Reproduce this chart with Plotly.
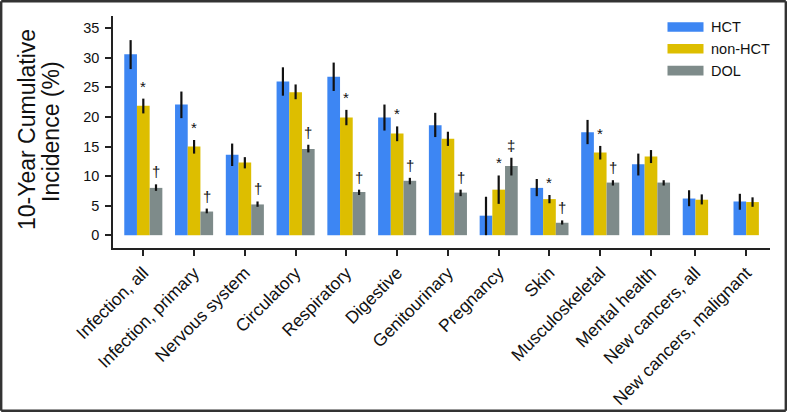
import plotly.graph_objects as go

categories = ["Infection, all", "Infection, primary", "Nervous system", "Circulatory",
              "Respiratory", "Digestive", "Genitourinary", "Pregnancy", "Skin",
              "Musculoskeletal", "Mental health", "New cancers, all", "New cancers, malignant"]

hct = [30.6, 22.1, 13.6, 26.0, 26.8, 19.9, 18.6, 3.3, 8.0, 17.4, 12.0, 6.2, 5.7]
hct_lo = [28.1, 19.8, 11.7, 23.6, 24.4, 17.7, 16.6, 0.0, 6.6, 15.4, 10.1, 4.9, 4.3]
hct_hi = [33.0, 24.3, 15.5, 28.4, 29.2, 22.1, 20.7, 6.5, 9.5, 19.5, 13.8, 7.6, 7.0]

nonhct = [21.9, 15.0, 12.3, 24.2, 19.9, 17.2, 16.3, 7.7, 6.1, 14.0, 13.3, 6.0, 5.6]
nonhct_lo = [20.6, 13.8, 11.3, 23.0, 18.6, 15.9, 15.1, 5.3, 5.4, 12.8, 12.2, 5.2, 4.8]
nonhct_hi = [23.1, 16.1, 13.2, 25.5, 21.2, 18.4, 17.5, 10.1, 6.8, 15.1, 14.4, 6.9, 6.4]

dol = [8.0, 4.0, 5.2, 14.6, 7.3, 9.2, 7.2, 11.7, 2.1, 8.9, 8.9, None, None]
dol_lo = [7.5, 3.7, 4.8, 14.0, 6.8, 8.6, 6.6, 10.1, 1.8, 8.4, 8.4, None, None]
dol_hi = [8.6, 4.5, 5.7, 15.3, 7.7, 9.7, 7.7, 13.1, 2.5, 9.3, 9.3, None, None]

nonhct_sig = ["*", "*", "", "", "*", "*", "", "*", "*", "*", "", "", ""]
dol_sig = ["\u2020", "\u2020", "\u2020", "\u2020", "\u2020", "\u2020", "\u2020", "\u2021", "\u2020", "\u2020", "", "", ""]

series_names = ["HCT", "non-HCT", "DOL"]
colors = ["#3D86F3", "#DDBE00", "#7E8B8A"]
yticks = [0, 5, 10, 15, 20, 25, 30, 35]

FONT = "Liberation Sans, Arial, Helvetica, sans-serif"
W, H = 787, 412
ML, MR, MT, MB = 113, 17, 16, 164
PW, PH = W - ML - MR, H - MT - MB
BARGAP = 0.25
slot = (1 - BARGAP) / 3

pos = list(range(len(categories)))


def err(vals, lo, hi):
    plus = [None if v is None else h - v for v, h in zip(vals, hi)]
    minus = [None if v is None else v - l for v, l in zip(vals, lo)]
    return dict(type="data", symmetric=False, array=plus, arrayminus=minus,
                color="#111111", thickness=2.2, width=0)


fig = go.Figure()
for name, vals, lo, hi, col in [("HCT", hct, hct_lo, hct_hi, colors[0]),
                                ("non-HCT", nonhct, nonhct_lo, nonhct_hi, colors[1]),
                                ("DOL", dol, dol_lo, dol_hi, colors[2])]:
    fig.add_trace(go.Bar(x=pos, y=vals, name=name, marker=dict(color=col, line=dict(width=0)),
                         error_y=err(vals, lo, hi), showlegend=False))

# tick positions: centre of the bars actually present in each group
tickvals = []
for i in pos:
    offs = [-slot, 0.0] + ([slot] if dol[i] is not None else [])
    tickvals.append(i + sum(offs) / len(offs))

annotations = []
for i in pos:
    if nonhct_sig[i]:
        annotations.append(dict(x=i, y=nonhct_hi[i], xref="x", yref="y", text=nonhct_sig[i],
                                showarrow=False, yanchor="bottom", yshift=2,
                                font=dict(family=FONT, size=15, color="#111")))
    if dol_sig[i]:
        annotations.append(dict(x=i + slot, y=dol_hi[i], xref="x", yref="y", text=dol_sig[i],
                                showarrow=False, yanchor="bottom", yshift=2,
                                font=dict(family=FONT, size=15, color="#111")))


def px_x(p):
    return (p - ML) / PW


def px_y(p):
    return (MT + PH - p) / PH


# y-axis title as two lines
annotations.append(dict(x=px_x(27), y=px_y(130), xref="paper", yref="paper", text="10-Year Cumulative",
                        textangle=-90, showarrow=False, xanchor="center", yanchor="middle",
                        font=dict(family=FONT, size=23, color="#111")))
annotations.append(dict(x=px_x(51), y=px_y(132), xref="paper", yref="paper", text="Incidence (%)",
                        textangle=-90, showarrow=False, xanchor="center", yanchor="middle",
                        font=dict(family=FONT, size=23, color="#111")))

shapes = []
# legend
for k, (name, col) in enumerate(zip(series_names, colors)):
    cy = 27 + k * 21.8
    shapes.append(dict(type="rect", xref="paper", yref="paper",
                       x0=px_x(667.5), x1=px_x(703.5), y0=px_y(cy - 4.8), y1=px_y(cy + 4.8),
                       fillcolor=col, line=dict(width=0)))
    annotations.append(dict(x=px_x(709), y=px_y(cy), xref="paper", yref="paper", text=name,
                            showarrow=False, xanchor="left", yanchor="middle",
                            font=dict(family=FONT, size=14.5, color="#111")))

# outer frame (four edges)
e = 1.2
for (a, b, c, d) in [(e, e, W - e, e), (W - e, e, W - e, H - e), (W - e, H - e, e, H - e), (e, H - e, e, e)]:
    shapes.append(dict(type="line", xref="paper", yref="paper",
                       x0=px_x(a), y0=px_y(b), x1=px_x(c), y1=px_y(d),
                       line=dict(color="#333333", width=2.4)))

fig.update_layout(
    width=W, height=H, template="none",
    margin=dict(l=ML, r=MR, t=MT, b=MB, pad=0),
    paper_bgcolor="white", plot_bgcolor="white",
    barmode="group", bargap=BARGAP, bargroupgap=0,
    font=dict(family=FONT, color="#111"),
    annotations=annotations, shapes=shapes, showlegend=False,
    xaxis=dict(range=[-0.597, 12.344], tickmode="array", tickvals=tickvals, ticktext=categories,
               tickangle=-45, ticks="outside", ticklen=6, tickwidth=1.5, tickcolor="#222",
               showline=True, linecolor="#222", linewidth=1.5, showgrid=False, zeroline=False,
               tickfont=dict(family=FONT, size=17.5, color="#111"), automargin=False),
    yaxis=dict(range=[-2.17, 37.08], tickmode="array", tickvals=yticks,
               ticks="outside", ticklen=6, tickwidth=1.5, tickcolor="#222",
               showline=True, linecolor="#222", linewidth=1.5, showgrid=False, zeroline=False,
               tickfont=dict(family=FONT, size=14.5, color="#111"), automargin=False,
               ticklabelstandoff=3),
)

fig.write_html("out.html", config={"displayModeBar": False},
               post_script="document.body.style.margin='0';document.body.style.overflow='hidden';")
